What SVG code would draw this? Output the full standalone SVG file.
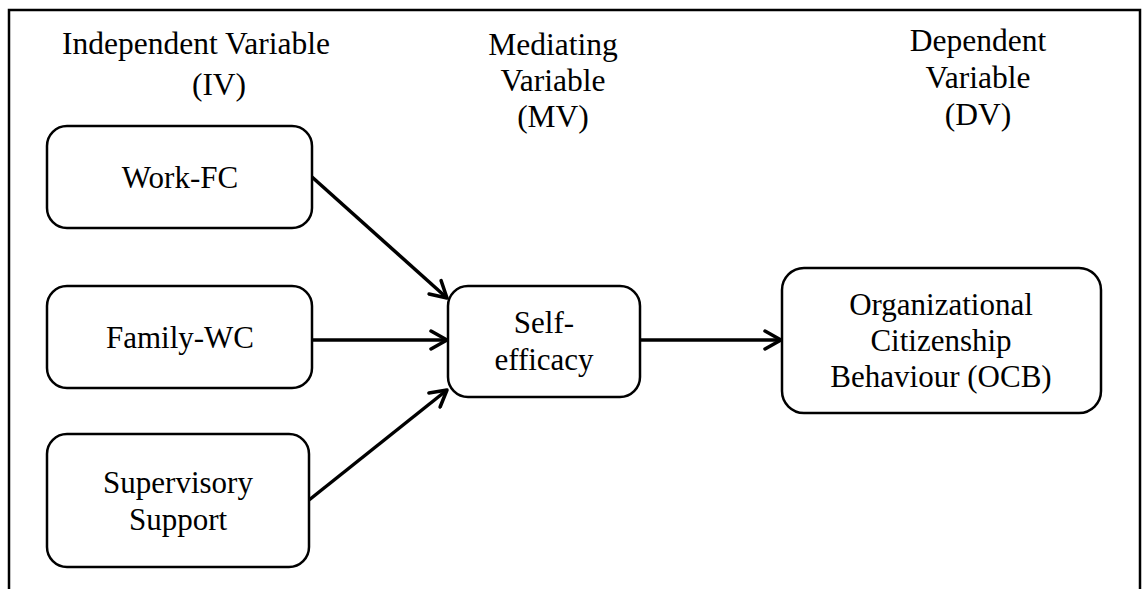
<svg xmlns="http://www.w3.org/2000/svg" width="1143" height="589" viewBox="0 0 1143 589">
  <defs>
    <style>
      text { font-family: "Liberation Serif", "Times New Roman", serif; font-size: 31px; fill: #000; text-anchor: middle; }
      .head { font-size: 31.5px; }
      .box { fill: #fff; stroke: #000; stroke-width: 2.5; }
      .edge { fill: none; stroke: #000; stroke-width: 3.5; }
      .frame { fill: none; stroke: #000; stroke-width: 2.5; }
    </style>
    <marker id="arrow" viewBox="0 0 22 22" markerWidth="22" markerHeight="22" refX="19" refY="11" orient="auto" markerUnits="userSpaceOnUse">
      <path d="M3,2 L19,11 L3,20" fill="none" stroke="#000" stroke-width="3.5" stroke-linecap="round" stroke-linejoin="round"/>
    </marker>
  </defs>

  <rect width="1143" height="589" fill="#fff"/>
  <!-- outer frame, open at the bottom -->
  <path class="frame" d="M9,592 V10 H1140 V592"/>

  <!-- column headings -->
  <g id="heading-iv" class="head">
    <text class="head" x="196" y="54">Independent Variable</text>
    <text class="head" x="219" y="95">(IV)</text>
  </g>
  <g id="heading-mv">
    <text class="head" x="553" y="55">Mediating</text>
    <text class="head" x="553" y="91">Variable</text>
    <text class="head" x="553" y="127">(MV)</text>
  </g>
  <g id="heading-dv">
    <text class="head" x="978" y="51">Dependent</text>
    <text class="head" x="978" y="88">Variable</text>
    <text class="head" x="978" y="125">(DV)</text>
  </g>

  <!-- connectors -->
  <g id="connectors">
    <line class="edge" x1="312" y1="177" x2="447" y2="298" marker-end="url(#arrow)"/>
    <line class="edge" x1="312" y1="340" x2="447" y2="340" marker-end="url(#arrow)"/>
    <line class="edge" x1="309" y1="500" x2="447" y2="390" marker-end="url(#arrow)"/>
    <line class="edge" x1="640" y1="340" x2="781" y2="340" marker-end="url(#arrow)"/>
  </g>

  <g id="work-fc">
    <rect class="box" x="47" y="126" width="265" height="102" rx="20"/>
    <text x="180" y="188">Work-FC</text>
  </g>
  <g id="family-wc">
    <rect class="box" x="47" y="286" width="265" height="102" rx="20"/>
    <text x="180" y="348">Family-WC</text>
  </g>
  <g id="supervisory-support">
    <rect class="box" x="47" y="434" width="262" height="133" rx="20"/>
    <text x="178" y="493">Supervisory</text>
    <text x="178" y="530">Support</text>
  </g>
  <g id="self-efficacy">
    <rect class="box" x="448" y="286" width="192" height="111" rx="20"/>
    <text x="544" y="333">Self-</text>
    <text x="544" y="370">efficacy</text>
  </g>
  <g id="ocb">
    <rect class="box" x="782" y="268" width="319" height="145" rx="22"/>
    <text x="941" y="315">Organizational</text>
    <text x="941" y="351">Citizenship</text>
    <text x="941" y="387">Behaviour (OCB)</text>
  </g>
</svg>
